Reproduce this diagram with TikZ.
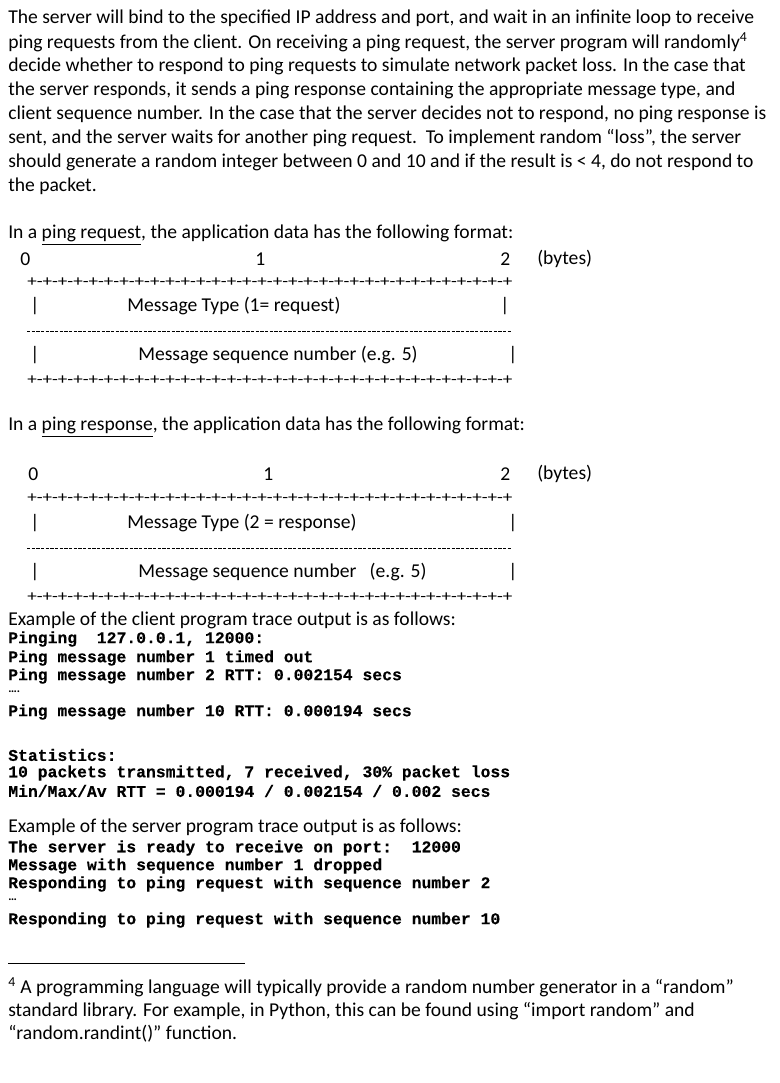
\documentclass[tikz,border=0pt]{standalone}
\usepackage{fontspec}
\usepackage{graphicx}
\setmainfont{Carlito}
\newfontfamily\monob{Liberation Mono}[FakeBold=0.25]
\newcommand{\bodyf}{\fontsize{14.7pt}{17pt}\selectfont}
\newcommand{\codef}{\fontsize{12.3pt}{14pt}\monob\bfseries}
\newcommand{\pluses}{\resizebox{364pt}{6.5pt}{\fontsize{10pt}{12pt}\selectfont +-+-+-+-+-+-+-+-+-+-+-+-+-+-+-+-+-+-+-+-+-+-+-+-+-+-+-+-+-+-+-+}}
\begin{document}
\begin{tikzpicture}[x=0.75pt,y=-0.75pt,
  txt/.style={anchor=west,inner sep=0pt,font=\bodyf},
  code/.style={anchor=west,inner sep=0pt,font=\codef},
  pl/.style={anchor=west,inner sep=0pt}]
\useasboundingbox (0,0) rectangle (780,1083);
\node[txt] (l1) at (8,18) {The server will bind to the specified IP address and port, and wait in an infinite loop to receive};
\node[txt] (l2) at (8,42) {ping requests from the client. On receiving a ping request, the server program will randomly\textsuperscript{4}};
\node[txt] (l3) at (8,66) {decide whether to respond to ping requests to simulate network packet loss. In the case that};
\node[txt] (l4) at (8,90) {the server responds, it sends a ping response containing the appropriate message type, and};
\node[txt] (l5) at (8,114) {client sequence number. In the case that the server decides not to respond, no ping response is};
\node[txt] (l6) at (8,138) {sent, and the server waits for another ping request.\ \ To implement random “loss”, the server};
\node[txt] (l7) at (8,162) {should generate a random integer between 0 and 10 and if the result is < 4, do not respond to};
\node[txt] (l8) at (8,186) {the packet.};
% request format
\node[txt] (r0) at (8,235) {In a \underline{ping request}, the application data has the following format:};
\node[txt] (a0) at (20,259) {0};
\node[txt] (a1) at (255,259) {1};
\node[txt] (a2) at (500,259) {2};
\node[txt] (ab) at (537,259) {(bytes)};
\node[pl] (p1) at (27,282) {\pluses};
\node[txt] (b1) at (30,306) {|};
\node[txt] (t1) at (127,306) {Message Type (1= request)};
\node[txt] (b2) at (500,306) {|};
\draw[line width=0.5pt,dash pattern=on 2.5pt off 1pt] (27,331) coordinate (d1s) -- (512,331) coordinate (d1e);
\node[txt] (b3) at (30,355) {|};
\node[txt] (t2) at (138,355) {Message sequence number (e.g. 5)};
\node[txt] (b4) at (508,355) {|};
\node[pl] (p2) at (27,380) {\pluses};
% response format
\node[txt] (s0) at (8,427) {In a \underline{ping response}, the application data has the following format:};
\node[txt] (c0) at (28,474) {0};
\node[txt] (c1) at (263,474) {1};
\node[txt] (c2) at (500,474) {2};
\node[txt] (cb) at (537,474) {(bytes)};
\node[pl] (p3) at (27,498) {\pluses};
\node[txt] (e1) at (30,523) {|};
\node[txt] (t3) at (127,523) {Message Type (2 = response)};
\node[txt] (e2) at (508,523) {|};
\draw[line width=0.5pt,dash pattern=on 2.5pt off 1pt] (27,548) coordinate (d2s) -- (512,548) coordinate (d2e);
\node[txt] (e3) at (30,572) {|};
\node[txt] (t4) at (138,572) {Message sequence number\ \ \ (e.g. 5)};
\node[txt] (e4) at (508,572) {|};
\node[pl] (p4) at (27,597) {\pluses};
% client trace
\node[txt] (x0) at (8,620) {Example of the client program trace output is as follows:};
\node[code] (k1) at (8,639) {Pinging\ \ 127.0.0.1, 12000:};
\node[code] (k2) at (8,658) {Ping message number 1 timed out};
\node[code] (k3) at (8,676) {Ping message number 2 RTT: 0.002154 secs};
\node[txt,font=\fontsize{9pt}{10pt}\selectfont\bfseries] (k4) at (8,692) {….};
\node[code] (k5) at (8,712) {Ping message number 10 RTT: 0.000194 secs};
\node[code] (k6) at (8,755) {Statistics:};
\node[code] (k7) at (8,773) {10 packets transmitted, 7 received, 30\% packet loss};
\node[code] (k8) at (8,791) {Min/Max/Av RTT = 0.000194 / 0.002154 / 0.002 secs};
% server trace
\node[txt] (y0) at (8,827) {Example of the server program trace output is as follows:};
\node[code] (m1) at (8,848) {The server is ready to receive on port:\ \ 12000};
\node[code] (m2) at (8,866) {Message with sequence number 1 dropped};
\node[code] (m3) at (8,884) {Responding to ping request with sequence number 2};
\node[txt,font=\fontsize{9pt}{10pt}\selectfont\bfseries] (m4) at (8,900) {…};
\node[code] (m5) at (8,920) {Responding to ping request with sequence number 10};
% footnote
\draw[line width=0.6pt] (8,963) coordinate (fs) -- (245,963) coordinate (fe);
\node[txt] (f1) at (8,987) {\textsuperscript{4} A programming language will typically provide a random number generator in a “random”};
\node[txt] (f2) at (8,1011) {standard library. For example, in Python, this can be found using “import random” and};
\node[txt] (f3) at (8,1034) {“random.randint()” function.};
\end{tikzpicture}
\end{document}
